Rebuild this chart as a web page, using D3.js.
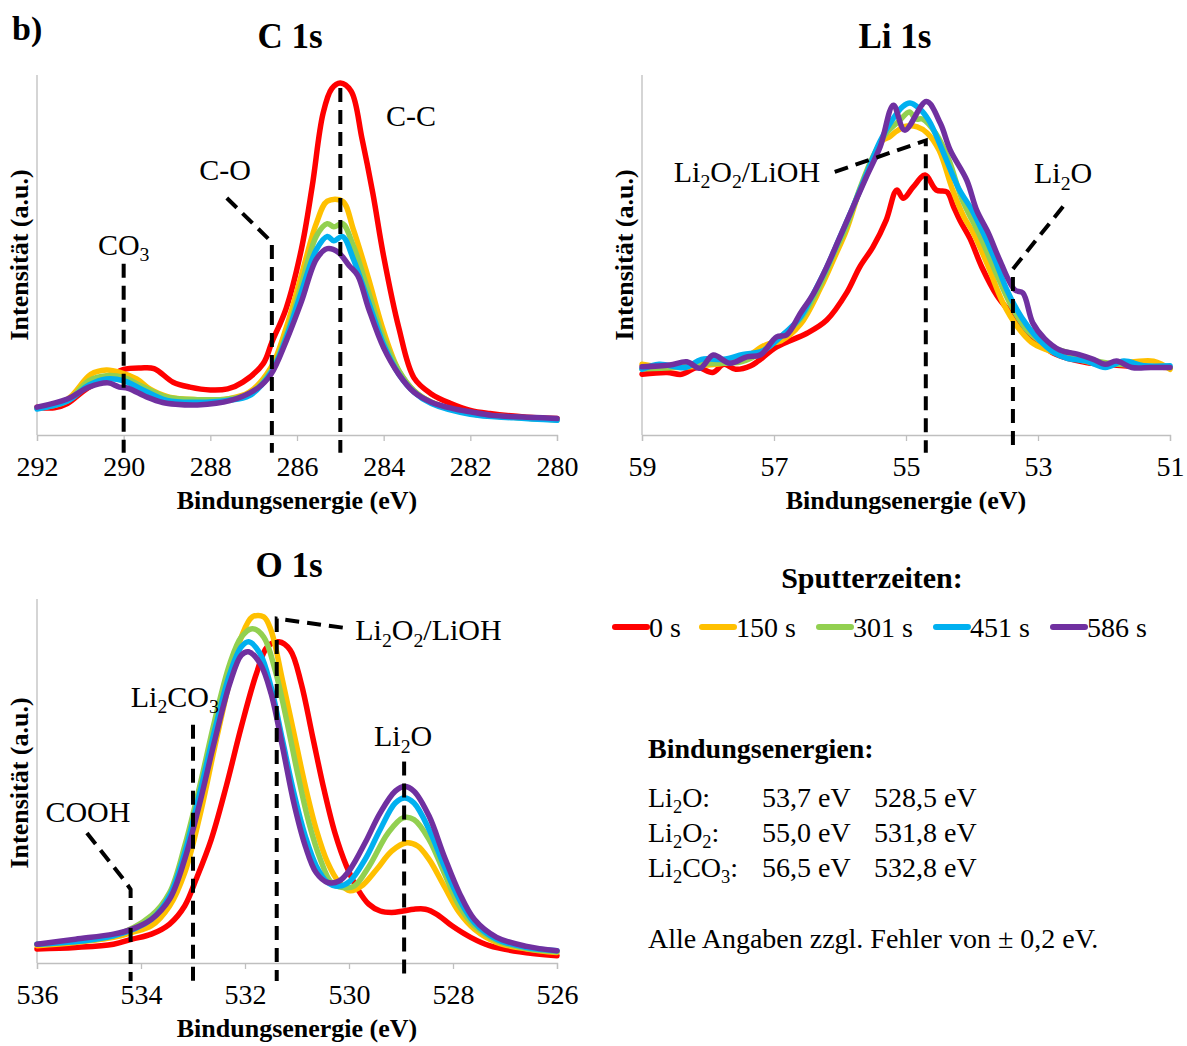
<!DOCTYPE html>
<html><head><meta charset="utf-8">
<script src="https://cdn.jsdelivr.net/npm/d3@7"></script>
<style>body{margin:0;background:#fff} text{font-family:"Liberation Serif","Times New Roman",serif;fill:#000}</style>
</head><body><svg id="chart" width="1187" height="1046"></svg>
<script>
// ---------- DATA ----------
const seriesLabels = ["0 s", "150 s", "301 s", "451 s", "586 s"];
const seriesColors = ["#ff0000", "#ffc000", "#92d050", "#00b0f0", "#7030a0"];

const c1sTicks = [292, 290, 288, 286, 284, 282, 280];
const li1sTicks = [59, 57, 55, 53, 51];
const o1sTicks = [536, 534, 532, 530, 528, 526];

// C 1s spectra: [binding energy eV, intensity a.u.]
const c1s_0 = [[292,7.8],[291.6,7.6],[291.3,8.8],[290.85,13],[290.3,16.5],[290.0,18.4],[289.6,18.8],[289.3,18.6],[288.86,14.8],[288.47,13.4],[288.0,12.6],[287.6,12.9],[287.25,14.8],[286.78,20],[286.58,26],[286.25,35.5],[285.9,52],[285.65,69.6],[285.4,90],[285.2,97],[285.0,98.6],[284.75,96.3],[284.5,83],[284.25,67.7],[284.0,50],[283.65,30],[283.3,16],[282.9,11.5],[282.45,8.8],[282.0,6.9],[281.55,6],[280.7,5],[280,4.6]];
const c1s_150 = [[292,7.5],[291.3,10],[290.76,17],[290.4,18.2],[290.07,17.5],[289.7,15.7],[289.4,12.9],[288.95,10.6],[288.3,9.9],[287.6,10.1],[287.1,12],[286.6,18.9],[286.25,30],[285.9,44.7],[285.55,59.4],[285.3,65.5],[284.95,65.5],[284.7,57.6],[284.35,43.8],[284.0,29],[283.65,18],[283.3,12.4],[282.9,9.2],[282.0,6],[281,5],[280,4.3]];
const c1s_301 = [[292,7.5],[291.3,9.5],[290.8,15.2],[290.4,16.6],[290.0,16.1],[289.6,13.8],[289.0,10.6],[288.3,9.9],[287.6,10.1],[287.1,11.5],[286.6,18],[286.25,28],[285.9,42],[285.55,55.8],[285.3,59.2],[285.15,58.3],[284.95,59.2],[284.7,53],[284.35,40],[284.0,27],[283.65,18],[283.3,12.4],[282.9,9.2],[282.0,6],[281,5],[280,4.3]];
const c1s_451 = [[292,7.3],[291.3,9.5],[290.8,14],[290.4,15.7],[290.0,15.2],[289.6,12.9],[289.0,9.7],[288.3,9.2],[287.6,9.7],[287.1,11],[286.6,17.5],[286.25,27.2],[285.9,40],[285.55,52],[285.3,55.6],[285.15,54.4],[284.95,55.6],[284.7,49.3],[284.35,37.3],[284.0,25.3],[283.65,17],[283.3,12],[282.9,8.8],[282.0,5.8],[281,4.8],[280,4.1]];
const c1s_586 = [[292,7.8],[291.3,10.1],[290.8,13.4],[290.36,14.6],[290.1,13.4],[289.9,13.1],[289.46,10.6],[289.1,9.1],[288.8,8.6],[288.3,8.4],[287.55,9.6],[286.9,13.2],[286.6,17],[286.25,26.3],[285.9,37.3],[285.55,49.3],[285.3,52.2],[285.05,51.2],[284.8,47.5],[284.6,44.7],[284.35,35.5],[284.0,24.4],[283.65,17],[283.3,12],[282.9,9.2],[282.4,7.4],[282.0,6.5],[281.5,5.5],[280.5,4.9],[280,4.6]];

// Li 1s spectra
const li1s_0 = [[59,17],[58.62,17.5],[58.4,17],[58.16,18.9],[57.93,17.5],[57.76,19.8],[57.58,18.4],[57.35,19.4],[57.24,20.7],[56.96,24.7],[56.5,28.5],[56.2,32.2],[55.9,39.8],[55.7,47.1],[55.5,52.7],[55.3,60.2],[55.14,68.6],[55.04,66.3],[54.89,69.5],[54.71,72.8],[54.54,68.6],[54.38,68.1],[54.28,64],[54.18,60],[54.03,55],[53.85,47],[53.62,39],[53.45,35],[53.25,30.9],[53.02,26.3],[52.73,22.6],[52.27,20.3],[51.98,19.8],[51.7,19.4],[51,18.9]];
const li1s_150 = [[59,19.8],[58.62,18.9],[58.1,19.4],[57.5,21.2],[57.12,25.3],[56.9,26.3],[56.6,31],[56.3,41],[56.08,49.9],[55.9,57.5],[55.7,68.6],[55.5,77],[55.35,82.6],[55.25,83.5],[55.15,85],[55.0,86.5],[54.83,86.3],[54.68,84.6],[54.5,79.8],[54.3,69],[54.12,61],[53.98,56.6],[53.75,47],[53.53,37],[53.3,30],[53.1,26],[52.86,23.8],[52.5,21.7],[52.0,19.8],[51.25,20.7],[51,18.4]];
const li1s_301 = [[59,18.5],[58.5,19],[58.0,20],[57.5,20.5],[57.2,23],[56.9,27.5],[56.6,32.5],[56.3,42],[56.1,50.5],[55.9,58.5],[55.7,69],[55.5,78],[55.3,84.5],[55.1,88],[54.95,90.5],[54.85,88.5],[54.75,88.5],[54.55,84.5],[54.35,77],[54.15,66],[53.9,56.6],[53.65,46],[53.4,36],[53.15,29],[52.85,25],[52.45,22.6],[52.0,20.3],[51.45,19.4],[51,18.9]];
const li1s_451 = [[59,18.4],[58.74,19.8],[58.34,18.9],[58.1,21.2],[57.76,21.2],[57.47,22.6],[57.18,23.5],[56.9,27.5],[56.6,33],[56.4,39.7],[56.2,47],[56.0,55.5],[55.8,64],[55.6,73],[55.4,82],[55.2,88.5],[55.05,92],[54.94,93],[54.8,91.5],[54.65,88],[54.45,79.8],[54.2,69],[54.0,63],[53.83,56.6],[53.65,49],[53.47,40.6],[53.25,33],[53.0,27],[52.75,23],[52.56,21.5],[52.27,20.7],[51.98,18.9],[51.7,20.7],[51.4,19.4],[51,19.4]];
const li1s_586 = [[59,19.1],[58.58,19.6],[58.32,20.5],[58.12,18.7],[57.92,22.4],[57.67,20.1],[57.41,21.9],[57.21,22.4],[56.96,27.5],[56.81,28],[56.6,34.1],[56.4,39.7],[56.2,47.1],[56.0,55.5],[55.8,64],[55.6,72.3],[55.39,80.8],[55.19,92.4],[55.02,85.4],[54.69,93.4],[54.48,87.3],[54.33,79.8],[54.08,71.4],[53.93,63],[53.75,56.5],[53.58,49],[53.35,40.6],[53.23,39.8],[53.08,31.4],[52.9,27],[52.67,23.8],[52.39,22.6],[52.16,21.2],[51.98,19.8],[51.81,20.7],[51.58,18.9],[51.29,18.9],[51,18.9]];

// O 1s spectra
const o1s_0 = [[536,3.9],[535.26,4.3],[534.53,5.2],[534.17,6.6],[533.8,8],[533.45,10.8],[533.16,15.8],[532.94,23.2],[532.65,34.2],[532.36,49],[532.07,65.5],[531.78,80.2],[531.57,87.6],[531.35,89],[531.13,86.7],[530.92,77.5],[530.7,62.7],[530.48,48],[530.27,36],[530.05,26.9],[529.83,20.4],[529.62,16.3],[529.4,14.4],[529.18,14],[528.96,14.4],[528.75,14.9],[528.53,14.9],[528.31,13.5],[528.02,10.3],[527.66,7.1],[527.3,4.8],[526.72,3.1],[526,2]];
const o1s_150 = [[536,4.8],[535.26,5.7],[534.53,7.1],[534.17,8.5],[533.8,10.3],[533.45,15.8],[533.16,25],[532.87,40.7],[532.58,60],[532.29,78.4],[532.07,90.3],[531.86,95.9],[531.64,95.9],[531.5,92.2],[531.28,78.4],[531.06,63.7],[530.84,49],[530.63,37],[530.41,27.8],[530.19,22.3],[529.98,20],[529.76,21.3],[529.47,25.9],[529.18,31],[528.89,33.3],[528.68,32.4],[528.46,28.7],[528.17,21.3],[527.88,14],[527.59,9.4],[527.16,5.7],[526.58,3.9],[526,2.9]];
const o1s_301 = [[536,5.2],[534.53,7.5],[533.8,13.1],[533.45,19.5],[533.16,32.4],[532.87,49],[532.58,67.3],[532.29,83],[532.07,90.3],[531.86,92.6],[531.64,90.3],[531.42,81.1],[531.2,67.3],[530.99,52.6],[530.77,38.8],[530.55,28.7],[530.34,22.3],[530.12,20.9],[529.9,21.3],[529.61,26.9],[529.25,36],[528.96,40.2],[528.75,39.7],[528.46,34.2],[528.17,25],[527.88,15.8],[527.59,10.3],[527.16,6.2],[526.58,4],[526,3.1]];
const o1s_451 = [[536,5.2],[534.53,7.5],[533.8,12.1],[533.45,18.6],[533.16,30.5],[532.87,47.1],[532.58,64.6],[532.29,80.2],[532.07,87.6],[531.93,89],[531.71,85.7],[531.5,76.5],[531.28,61.8],[531.06,47.1],[530.84,35.1],[530.63,26.9],[530.41,22.3],[530.19,21.3],[529.98,22.7],[529.69,28.7],[529.4,37],[529.11,44.3],[528.93,45.7],[528.75,44.3],[528.46,37],[528.17,26.9],[527.88,17.7],[527.59,11.2],[527.16,6.6],[526.58,4.3],[526,3.4]];
const o1s_586 = [[536,5.2],[535.26,6.6],[534.53,8],[534.17,9.4],[533.8,12.1],[533.45,17.7],[533.16,28.7],[532.87,44.3],[532.58,61.8],[532.29,77.5],[532.07,85.3],[531.93,86.2],[531.71,83],[531.5,74.7],[531.28,60],[531.06,44.3],[530.84,32.4],[530.63,25],[530.41,22.3],[530.19,22.7],[529.98,25.9],[529.69,33.3],[529.4,41.6],[529.11,47.6],[528.93,48.9],[528.75,47.6],[528.46,40.7],[528.17,29.6],[527.88,19.5],[527.59,12.1],[527.16,7.1],[526.58,4.6],[526,3.4]];

// Peak markers (dashed guide lines) and labels, in data units
const c1sMarkers = [[[290,48],[290,-5]], [[287.62,66.4],[286.58,54],[286.58,-5]], [[285.0,97.2],[285.0,-5]]];
const c1sLabels = [{t:"CO_3", e:290.0, v:50.5, a:"middle"}, {t:"C-O", e:287.66, v:71.5, a:"middle"}, {t:"C-C", e:283.37, v:86.5, a:"middle"}];
const li1sMarkers = [[[56.08,73.7],[54.7,82.5],[54.7,-5]], [[52.62,64],[53.38,46.5],[53.38,-5]]];
const li1sLabels = [{t:"Li_2O_2/LiOH", e:56.3, v:71, a:"end"}, {t:"Li_2O", e:52.62, v:70.5, a:"middle"}];
const o1sMarkers = [[[535.04,36],[534.3,22.5],[534.2,20.4],[534.2,-5]], [[533.0,66],[533.0,-5]], [[530.12,92.9],[531.39,95.4],[531.39,-5]], [[528.94,55.8],[528.94,-5]]];
const o1sLabels = [{t:"COOH", e:535.02, v:39, a:"middle"}, {t:"Li_2CO_3", e:533.35, v:71, a:"middle"}, {t:"Li_2O_2/LiOH", e:529.88, v:89.5, a:"start"}, {t:"Li_2O", e:528.96, v:60, a:"middle"}];

// Text block
const bindTitle = "Bindungsenergien:";
const bindRows = [["Li_2O:", "53,7 eV", "528,5 eV"], ["Li_2O_2:", "55,0 eV", "531,8 eV"], ["Li_2CO_3:", "56,5 eV", "532,8 eV"]];
const bindNote = "Alle Angaben zzgl. Fehler von ± 0,2 eV.";

// ---------- DRAWING ----------
const svg = d3.select("#chart");

function richText(g, str, x, y, size, anchor, weight) {
  const t = g.append("text").attr("x", x).attr("y", y).attr("font-size", size)
    .attr("text-anchor", anchor || "start").attr("font-weight", weight || "normal");
  const re = /_(\d)/g; let last = 0, m; const parts = [];
  while ((m = re.exec(str))) {
    if (m.index > last) parts.push([str.slice(last, m.index), false]);
    parts.push([m[1], true]); last = re.lastIndex;
  }
  if (last < str.length) parts.push([str.slice(last), false]);
  let shifted = false;
  parts.forEach(([s, sub]) => {
    const ts = t.append("tspan").text(s);
    if (sub) { ts.attr("font-size", size * 0.66); if (!shifted) ts.attr("dy", size * 0.22); shifted = true; }
    else if (shifted) { ts.attr("dy", -size * 0.22); shifted = false; }
  });
  return t;
}

function panel(cfg) {
  const g = svg.append("g");
  const x = d3.scaleLinear().domain(cfg.xDomain).range(cfg.xRange);
  const y = d3.scaleLinear().domain([0, 100]).range(cfg.yRange);
  const base = cfg.yRange[0];

  // axes
  g.append("line").attr("x1", cfg.xRange[0]).attr("x2", cfg.xRange[0])
    .attr("y1", cfg.yRange[1] - 3).attr("y2", base).attr("stroke", "#bfbfbf").attr("stroke-width", 1.3);
  const ax = g.append("g").attr("transform", `translate(0,${base})`)
    .call(d3.axisBottom(x).tickValues(cfg.ticks).tickSize(6).tickPadding(15).tickFormat(d3.format("d")));
  ax.select(".domain").attr("stroke", "#bfbfbf").attr("stroke-width", 1.3);
  ax.selectAll(".tick line").attr("stroke", "#bfbfbf").attr("stroke-width", 1.3);
  ax.selectAll(".tick text").attr("font-size", 28).attr("font-family", "Liberation Serif").attr("fill", "#000")
    .attr("dy", "0.7em");

  // title
  g.append("text").attr("x", cfg.titleX).attr("y", cfg.titleY).attr("text-anchor", "middle")
    .attr("font-size", 35).attr("font-weight", "bold").text(cfg.title);
  // axis titles
  g.append("text").attr("x", (cfg.xRange[0] + cfg.xRange[1]) / 2).attr("y", base + 74)
    .attr("text-anchor", "middle").attr("font-size", 26).attr("font-weight", "bold").text("Bindungsenergie (eV)");
  g.append("text").attr("transform", `translate(${cfg.xRange[0] - 9},${base - 180}) rotate(-90)`)
    .attr("text-anchor", "middle").attr("font-size", 26).attr("font-weight", "bold").text("Intensität (a.u.)");

  // curves
  const line = d3.line().x(d => x(d[0])).y(d => y(d[1])).curve(d3.curveCatmullRom.alpha(0.5));
  cfg.series.forEach((s, i) => {
    g.append("path").datum(s).attr("d", line).attr("fill", "none").attr("stroke", seriesColors[i])
      .attr("stroke-width", 5.5).attr("stroke-linejoin", "round").attr("stroke-linecap", "round");
  });

  // markers
  const mline = d3.line().x(d => x(d[0])).y(d => y(d[1]));
  cfg.markers.forEach(mk => {
    g.append("path").datum(mk).attr("d", mline).attr("fill", "none").attr("stroke", "#000")
      .attr("stroke-width", 4).attr("stroke-dasharray", "14,8");
  });
  cfg.labels.forEach(l => richText(g, l.t, x(l.e), y(l.v), 30, l.a));
}

panel({ xDomain: [292, 280], xRange: [37, 557], yRange: [435, 78], ticks: c1sTicks, title: "C 1s", titleX: 290, titleY: 48,
  series: [c1s_0, c1s_150, c1s_301, c1s_451, c1s_586], markers: c1sMarkers, labels: c1sLabels });
panel({ xDomain: [59, 51], xRange: [642, 1170], yRange: [435, 78], ticks: li1sTicks, title: "Li 1s", titleX: 895, titleY: 48,
  series: [li1s_0, li1s_150, li1s_301, li1s_451, li1s_586], markers: li1sMarkers, labels: li1sLabels });
panel({ xDomain: [536, 526], xRange: [37, 557], yRange: [963, 602], ticks: o1sTicks, title: "O 1s", titleX: 289, titleY: 577,
  series: [o1s_0, o1s_150, o1s_301, o1s_451, o1s_586], markers: o1sMarkers, labels: o1sLabels });

// figure letter
svg.append("text").attr("x", 12).attr("y", 40).attr("font-size", 34).attr("font-weight", "bold").text("b)");

// legend
svg.append("text").attr("x", 872).attr("y", 588).attr("text-anchor", "middle").attr("font-size", 30)
  .attr("font-weight", "bold").text("Sputterzeiten:");
const legX = [615, 702, 819, 936, 1053];
seriesLabels.forEach((lab, i) => {
  svg.append("line").attr("x1", legX[i]).attr("x2", legX[i] + 32).attr("y1", 627).attr("y2", 627)
    .attr("stroke", seriesColors[i]).attr("stroke-width", 6).attr("stroke-linecap", "round");
  svg.append("text").attr("x", legX[i] + 34).attr("y", 637).attr("font-size", 28).text(lab);
});

// binding energy text block
svg.append("text").attr("x", 648).attr("y", 758).attr("font-size", 28).attr("font-weight", "bold").text(bindTitle);
bindRows.forEach((r, i) => {
  const yy = 807 + i * 35;
  richText(svg, r[0], 648, yy, 28, "start");
  svg.append("text").attr("x", 762).attr("y", yy).attr("font-size", 28).text(r[1]);
  svg.append("text").attr("x", 874).attr("y", yy).attr("font-size", 28).text(r[2]);
});
svg.append("text").attr("x", 648).attr("y", 948).attr("font-size", 28).text(bindNote);
</script></body></html>
